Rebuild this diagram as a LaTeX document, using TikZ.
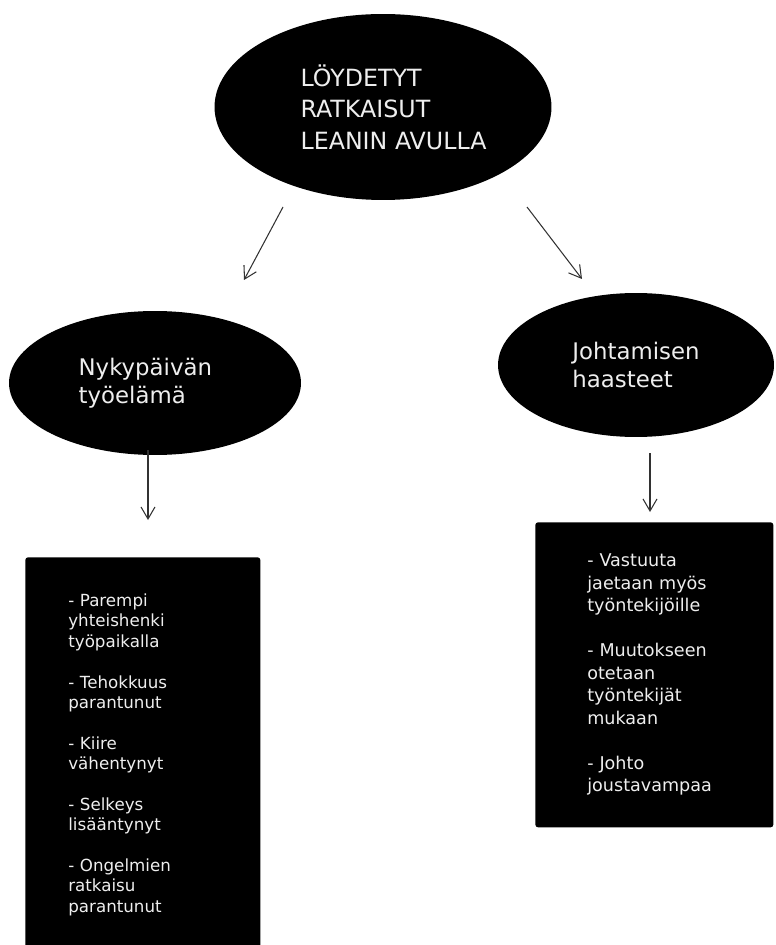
\documentclass[tikz,border=0pt]{standalone}
\usepackage{fontspec}
\setmainfont{DejaVu Sans}
\usetikzlibrary{positioning,arrows.meta,shapes.geometric}
\definecolor{lnGray}{RGB}{50,50,50}
\definecolor{txtWhite}{RGB}{238,238,238}

\begin{document}
\begin{tikzpicture}[
    x=0.02cm, y=-0.02cm,
    bubble/.style={ellipse, fill=black, text=txtWhite, align=left, inner sep=0pt},
    listbox/.style={rectangle, rounded corners=1.5pt, fill=black, text=txtWhite, align=left, anchor=north west},
    arrow/.style={draw=lnGray, line width=0.6pt, -{Straight Barb[length=2.4mm, width=2.8mm]}}
]
  \useasboundingbox (0,0) rectangle (775,945);

  \node[bubble, minimum width=6.74cm, minimum height=3.72cm, font=\fontsize{13.5}{18}\selectfont] (goal) at (383,107) {\hspace*{12pt}LÖYDETYT\\\hspace*{12pt}RATKAISUT\\\hspace*{12pt}LEANIN AVULLA};
  \node[bubble, minimum width=5.84cm, minimum height=2.88cm, font=\fontsize{13}{16}\selectfont] (work) at (155,383) {Nykypäivän\hspace*{11pt}\\työelämä};
  \node[bubble, minimum width=5.52cm, minimum height=2.88cm, font=\fontsize{13}{16}\selectfont] (lead) at (636,365) {Johtamisen\\haasteet};

  \node[listbox, minimum width=4.7cm, minimum height=7.9cm, text width=2.98cm, inner xsep=0.86cm, font=\fontsize{9.5}{11.6}\selectfont] (workbox) at (25,557)
    {- Parempi\\yhteishenki\\työpaikalla\\[11.6pt]
     - Tehokkuus\\parantunut\\[11.6pt]
     - Kiire\\vähentynyt\\[11.6pt]
     - Selkeys\\lisääntynyt\\[11.6pt]
     - Ongelmien\\ratkaisu\\parantunut};
  \node[listbox, minimum width=4.76cm, minimum height=6.1cm, text width=2.68cm, inner xsep=1.04cm, font=\fontsize{10}{12.8}\selectfont] (leadbox) at (535,522)
    {- Vastuuta\\jaetaan myös\\työntekijöille\\[12.8pt]
     - Muutokseen\\otetaan\\työntekijät\\mukaan\\[12.8pt]
     - Johto\\joustavampaa};

  % free arrow ends
  \coordinate (goalL) at (283,207);
  \coordinate (workT) at (244,280);
  \coordinate (goalR) at (527,207);
  \coordinate (leadT) at (582,279);
  \coordinate (workB) at (148,450);
  \coordinate (workboxT) at (148,520);
  \coordinate (leadB) at (650,453);
  \coordinate (leadboxT) at (650,512);

  \draw[arrow] (goalL) -- (workT);
  \draw[arrow] (goalR) -- (leadT);
  \draw[arrow] (workB) -- (workboxT);
  \draw[arrow] (leadB) -- (leadboxT);
\end{tikzpicture}
\end{document}
